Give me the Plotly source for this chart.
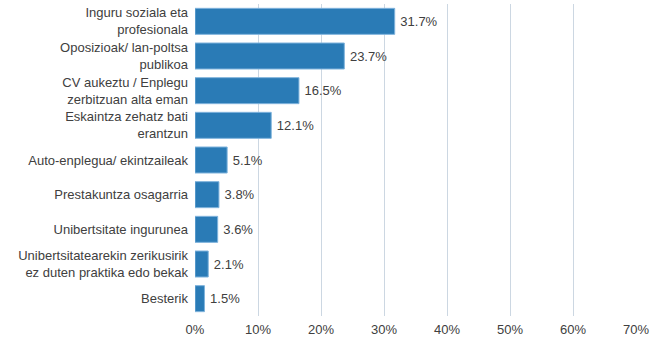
import plotly.graph_objects as go

# ── Data ──────────────────────────────────────────────────────────────────────
categories = [
    "Inguru soziala eta<br>profesionala",
    "Oposizioak/ lan-poltsa<br>publikoa",
    "CV aukeztu / Enplegu<br>zerbitzuan alta eman",
    "Eskaintza zehatz bati<br>erantzun",
    "Auto-enplegua/ ekintzaileak",
    "Prestakuntza osagarria",
    "Unibertsitate ingurunea",
    "Unibertsitatearekin zerikusirik<br>ez duten praktika edo bekak",
    "Besterik",
]
values = [31.7, 23.7, 16.5, 12.1, 5.1, 3.8, 3.6, 2.1, 1.5]
tick_vals = [0, 10, 20, 30, 40, 50, 60, 70]
tick_text = [f"{v}%" for v in tick_vals]

# ── Theme ─────────────────────────────────────────────────────────────────────
BAR = "#2a7bb6"
BAR_EDGE = "#7fb3dc"
GRID = "#ccd7e2"
TEXT = "#404040"
FONT = "Liberation Sans, Arial, sans-serif"

fig = go.Figure(go.Bar(
    x=values,
    y=categories,
    orientation="h",
    marker=dict(color=BAR, line=dict(color=BAR_EDGE, width=1)),
    # thin space keeps the label off the bar end, as in the original
    text=[f"\u2009{v:.1f}%" for v in values],
    textposition="outside",
    textfont=dict(size=13, color=TEXT, family=FONT),
    cliponaxis=False,
))

fig.update_layout(
    width=662,
    height=342,
    plot_bgcolor="white",
    paper_bgcolor="white",
    font=dict(family=FONT, color=TEXT, size=13),
    margin=dict(l=195, r=26, t=4, b=26),
    bargap=0.25,
    showlegend=False,
    xaxis=dict(
        range=[0, 70],
        tickvals=tick_vals,
        ticktext=tick_text,
        showgrid=True,
        gridcolor=GRID,
        gridwidth=1,
        zeroline=False,
        showline=False,
        tickfont=dict(size=13, color=TEXT),
        ticks="",
        ticklabelstandoff=4,
        automargin=False,
    ),
    yaxis=dict(
        autorange="reversed",
        showgrid=False,
        showline=False,
        ticks="",
        ticklabelstandoff=6,
        tickfont=dict(size=13, color=TEXT),
        automargin=False,
    ),
)

# drop the browser's default body margin so the figure sits at the page corner
fig.write_html(
    "out.html",
    config={"displayModeBar": False},
    post_script="document.body.style.margin='0';",
)
